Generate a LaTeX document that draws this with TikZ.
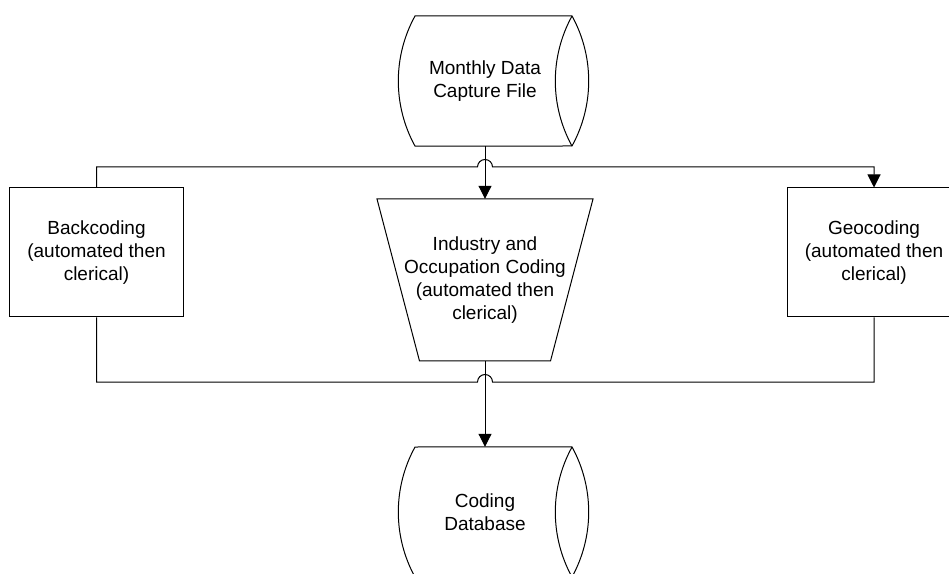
\documentclass[tikz,border=0pt]{standalone}
\usepackage{fontspec}
\setmainfont{Liberation Sans}
\usetikzlibrary{arrows.meta,calc}

\tikzset{
  lbl/.style={align=center, inner sep=0pt, font=\fontsize{19}{23}\selectfont},
  procbox/.style={lbl, draw, line width=1pt, minimum width=174pt, minimum height=129pt},
  datastore/.style={lbl, minimum height=130pt},
  manualop/.style={lbl, minimum height=162pt},
  outline/.style={line width=1pt, line join=miter},
  link/.style={line width=1pt},
  flow/.style={link, -{Triangle[length=13pt,width=13pt]}},
}

% horizontal "direct data" cylinder drawn around the node centre #1
\newcommand{\directdata}[1]{%
  \draw[outline] ($(#1.center)+(-70,65)$)
      arc[start angle=151.2, end angle=208.8, radius=135]
      -- ($(#1.center)+(87,-65)$)
      arc[start angle=-28.8, end angle=28.8, radius=135]
      -- cycle;
  \draw[outline] ($(#1.center)+(87,65)$)
      arc[start angle=151.2, end angle=208.8, radius=135];
}

\begin{document}
\begin{tikzpicture}[x=1pt, y=1pt]
  \useasboundingbox (0,0) rectangle (949,573);
  \clip (0,0) rectangle (949,573);

  % shapes
  \node[datastore] (mdc) at (485,492) {Monthly Data\\Capture File};
  \directdata{mdc}

  \node[manualop] (ioc) at (485,293) {Industry and\\Occupation Coding\\(automated then\\clerical)};
  \draw[outline] ($(ioc.center)+(-108,81)$) -- ($(ioc.center)+(108,81)$)
      -- ($(ioc.center)+(65.5,-81)$) -- ($(ioc.center)+(-65.5,-81)$) -- cycle;

  \node[procbox] (bk) at (96.5,320.5) {Backcoding\\(automated then\\clerical)};
  \node[procbox] (geo) at (874,320.5) {Geocoding\\(automated then\\clerical)};

  \node[datastore] (db) at (485,61) {Coding\\Database};
  \directdata{db}

  % line hops where the horizontal links cross the main flow
  \coordinate (hopA) at (485,406);
  \coordinate (hopB) at (485,191);

  % connectors
  \draw[flow] (mdc.south) -- (ioc.north);
  \draw[flow] (ioc.south) -- (db.north);

  \draw[flow] (bk.north) -- (bk.north |- hopA) -- ([xshift=-7.5pt]hopA)
      arc[start angle=180, end angle=0, radius=7.5]
      -- (geo.north |- hopA) -- (geo.north);

  \draw[link] (bk.south) -- (bk.south |- hopB) -- ([xshift=-7.5pt]hopB)
      arc[start angle=180, end angle=0, radius=7.5]
      -- (geo.south |- hopB) -- (geo.south);
\end{tikzpicture}
\end{document}
